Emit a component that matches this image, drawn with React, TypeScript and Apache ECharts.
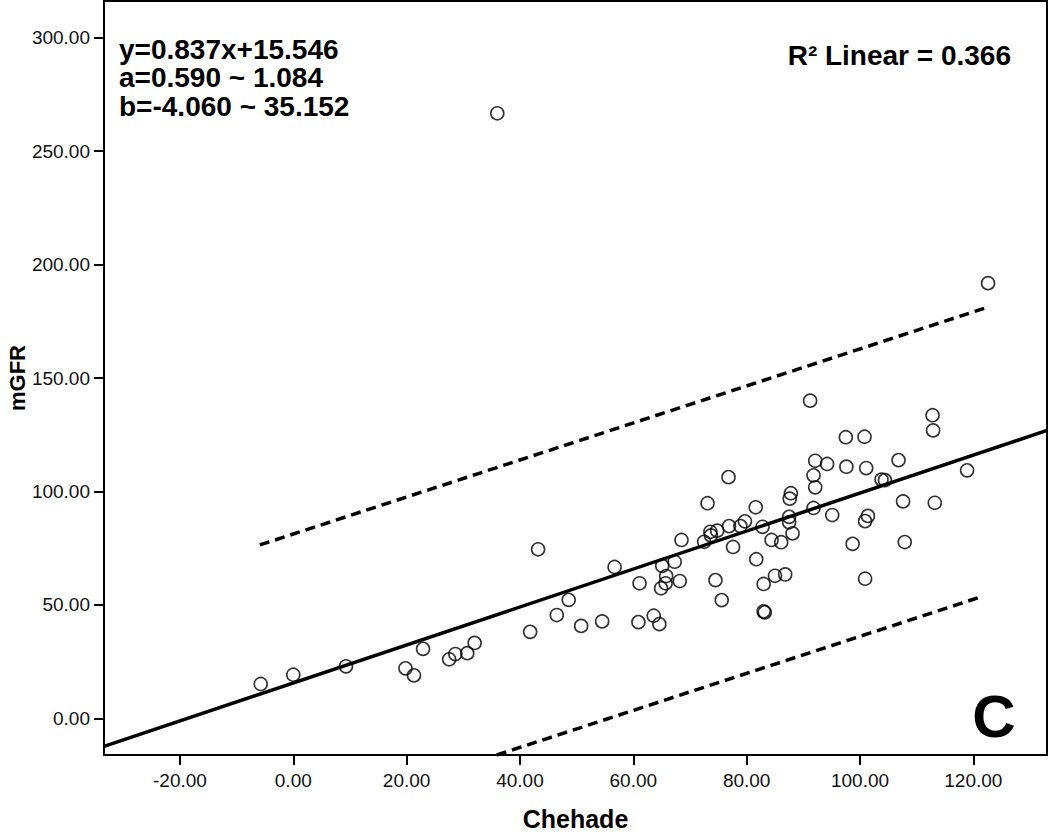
import React, { useEffect, useRef } from "react";
import * as echarts from "echarts";

// Chehade (x) values of the observations
const chehade: number[] = [
  -5.75, 0.0, 9.3, 19.8, 21.3, 22.9, 27.5, 28.6, 30.7, 32.0,
  41.8, 43.2, 46.5, 48.6, 50.8, 54.5, 56.7, 60.9, 61.1, 63.6,
  64.6, 64.9, 65.8, 65.7, 65.1, 67.3, 68.2, 68.5, 72.5, 73.1,
  73.6, 73.7, 74.8, 74.5, 75.6, 76.9, 76.8, 77.6, 78.9, 79.7,
  81.6, 81.7, 82.8, 83.0, 83.0, 83.2, 84.4, 85.0, 86.1, 86.8,
  87.5, 87.5, 87.8, 87.6, 88.1, 91.2, 91.8, 92.1, 92.1, 91.8,
  94.2, 95.1, 97.5, 97.6, 98.7, 100.8, 101.1, 100.9, 101.4, 100.9,
  103.8, 104.4, 106.8, 107.6, 107.9, 112.8, 112.9, 113.2, 118.9, 122.6,
  36.0,
];

// mGFR (y) values of the observations
const mgfr: number[] = [
  15.1, 19.2, 22.9, 22.0, 18.9, 30.6, 26.0, 28.3, 28.7, 33.2,
  38.1, 74.5, 45.5, 52.2, 40.7, 42.7, 66.7, 42.4, 59.5, 45.2,
  41.5, 57.3, 62.7, 59.5, 67.2, 69.0, 60.5, 78.6, 77.8, 94.8,
  82.2, 80.6, 82.7, 60.9, 52.1, 84.7, 106.3, 75.5, 84.7, 86.8,
  93.0, 70.1, 84.4, 59.2, 47.1, 46.7, 78.6, 62.8, 77.6, 63.4,
  88.8, 86.4, 99.2, 96.8, 81.5, 140.0, 107.1, 113.5, 101.8, 92.7,
  112.1, 89.6, 123.9, 110.9, 76.9, 124.1, 110.3, 61.5, 89.2, 86.9,
  105.2, 105.0, 113.8, 95.6, 77.7, 133.6, 126.9, 95.0, 109.3, 191.8,
  266.7,
];

// Fit line and prediction-interval lines (end points)
const fitLine: number[][] = [[-33.4, -12.4], [133.0, 126.9]];
const upperBand: number[][] = [[-5.9, 76.4], [121.9, 180.7]];
const lowerBand: number[][] = [[35.9, -16.2], [121.2, 53.4]];

// Axis ticks
const xTicks: number[] = [-20, 0, 20, 40, 60, 80, 100, 120];
const yTicks: number[] = [0, 50, 100, 150, 200, 250, 300];

const annotationLines: string[] = [
  "y=0.837x+15.546",
  "a=0.590 ~ 1.084",
  "b=-4.060 ~ 35.152",
];
const r2Text = "R² Linear = 0.366";
const panelLetter = "C";

const FONT = '"Liberation Sans", Arial, Helvetica, sans-serif';

export default function App() {
  const ref = useRef<HTMLDivElement>(null);

  useEffect(() => {
    if (!ref.current) return;
    const chart = echarts.init(ref.current, undefined, { renderer: "svg" });
    const points = chehade.map((x, i) => [x, mgfr[i]]);

    const axisCommon = {
      type: "value" as const,
      splitLine: { show: false },
      nameMoveOverlap: false,
      axisLine: { show: true, onZero: false, lineStyle: { color: "#000", width: 2 } },
      axisTick: { show: true, inside: false, length: 10, lineStyle: { color: "#000", width: 2 } },
      nameTextStyle: { fontFamily: FONT, fontWeight: "bold" as const, color: "#000" },
    };

    chart.setOption({
      animation: false,
      backgroundColor: "#fff",
      grid: {
        left: 104,
        right: 3,
        top: 1,
        bottom: 79,
        containLabel: false,
        outerBoundsMode: "none",
        show: true,
        borderColor: "#000",
        borderWidth: 2,
        backgroundColor: "transparent",
      },
      xAxis: {
        ...axisCommon,
        min: -33.4,
        max: 133.0,
        name: "Chehade",
        nameLocation: "middle",
        nameGap: 51,
        nameTextStyle: { ...axisCommon.nameTextStyle, fontSize: 25 },
        axisTick: { ...axisCommon.axisTick, customValues: xTicks },
        axisLabel: {
          customValues: xTicks,
          formatter: (v: number) => v.toFixed(2),
          fontFamily: FONT,
          fontSize: 19,
          color: "#111",
          margin: 16,
        },
      },
      yAxis: {
        ...axisCommon,
        min: -16.2,
        max: 316.2,
        name: "mGFR",
        nameLocation: "middle",
        nameGap: 76,
        nameTextStyle: { ...axisCommon.nameTextStyle, fontSize: 22 },
        axisTick: { ...axisCommon.axisTick, customValues: yTicks },
        axisLabel: {
          customValues: yTicks,
          formatter: (v: number) => v.toFixed(2),
          fontFamily: FONT,
          fontSize: 19,
          color: "#111",
          margin: 14,
        },
      },
      series: [
        {
          type: "scatter",
          data: points,
          symbol: "circle",
          symbolSize: 13,
          itemStyle: { color: "transparent", borderColor: "#000", borderWidth: 1.6 },
          z: 3,
        },
        {
          type: "line",
          data: fitLine,
          showSymbol: false,
          symbol: "none",
          lineStyle: { color: "#000", width: 3.5 },
          z: 4,
        },
        {
          type: "line",
          data: upperBand,
          showSymbol: false,
          symbol: "none",
          lineStyle: { color: "#000", width: 3.5, type: [10, 6] },
          z: 4,
        },
        {
          type: "line",
          data: lowerBand,
          showSymbol: false,
          symbol: "none",
          lineStyle: { color: "#000", width: 3.5, type: [10, 6] },
          z: 4,
        },
      ],
      graphic: [
        ...annotationLines.map((t, i) => ({
          type: "text",
          x: 119,
          y: 49.5 + i * 28.3,
          z: 10,
          style: {
            text: t,
            fill: "#000",
            font: `bold 28px ${FONT}`,
            textAlign: "left",
            textVerticalAlign: "middle",
          },
        })),
        {
          type: "text",
          x: 1011,
          y: 55,
          z: 10,
          style: {
            text: r2Text,
            fill: "#000",
            font: `bold 28px ${FONT}`,
            textAlign: "right",
            textVerticalAlign: "middle",
          },
        },
        {
          type: "text",
          x: 994,
          y: 716,
          z: 10,
          style: {
            text: panelLetter,
            fill: "#000",
            font: `bold 60px ${FONT}`,
            textAlign: "center",
            textVerticalAlign: "middle",
          },
        },
      ],
    });

    return () => chart.dispose();
  }, []);

  return (
    <div
      ref={ref}
      style={{ position: "absolute", left: 0, top: 0, width: 1050, height: 834 }}
    />
  );
}
